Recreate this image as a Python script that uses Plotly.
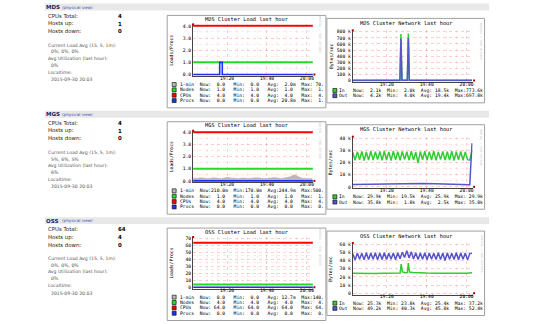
import numpy as np
import plotly.graph_objects as go

W, H = 533, 324


def X(p):
    return p / W


def Y(p):
    return 1 - p / H


# ---------------- data ----------------
clusters = ["MDS", "MGS", "OSS"]
cpus_total = ["4", "4", "64"]
hosts_up = ["1", "1", "4"]
hosts_down = ["0", "0", "0"]
load_avg_15_5_1 = ["0%, 0%, 0%", "5%, 6%, 5%", "0%, 0%, 0%"]
avg_utilization = ["0%", "6%", "0%"]
localtime = ["2015-09-30 20:03", "2015-09-30 20:03", "2015-09-30 20:03"]

# time axis: minutes after 19:00
time_range = [3, 63]
time_ticks = [20, 40, 60]
time_tick_labels = ["19:20", "19:40", "20:00"]
time_minor = [5, 10, 15, 25, 30, 35, 45, 50, 55]

load_ymax = [4, 4, 70]
load_yticks = [[0, 1, 2, 3, 4], [0, 1, 2, 3, 4], [0, 10, 20, 30, 40, 50, 60, 70]]
load_ytick_labels = [["0.0", "1.0", "2.0", "3.0", "4.0"],
                     ["0.0", "1.0", "2.0", "3.0", "4.0"],
                     ["0", "10", "20", "30", "40", "50", "60", "70"]]
net_ymax = [800, 40, 60]  # kB/s
net_yticks = [[0, 100, 200, 300, 400, 500, 600, 700, 800],
              [0, 10, 20, 30, 40],
              [0, 10, 20, 30, 40, 50, 60]]
net_ytick_labels = [["0", "100 k", "200 k", "300 k", "400 k", "500 k", "600 k", "700 k", "800 k"],
                    ["0", "10 k", "20 k", "30 k", "40 k"],
                    ["0", "10 k", "20 k", "30 k", "40 k", "50 k", "60 k"]]

const_t = [3, 63]

# MDS load
mds_min1_t = [3, 4, 5, 6, 7, 8, 63]
mds_min1 = [0.0, 0.02, 0.07, 0.04, 0.01, 0.0, 0.0]
mds_nodes = [1.0, 1.0]
mds_cpus = [4.0, 4.0]
mds_procs_t = [3, 16.3, 17.6, 63]
mds_procs = [0.0, 1.0, 0.0, 0.0]

# MGS load
mgs_min1 = [0.24, 0.22, 0.21, 0.25, 0.27, 0.23, 0.20, 0.19, 0.22, 0.26, 0.24, 0.21, 0.18, 0.20,
            0.23, 0.27, 0.29, 0.25, 0.22, 0.20, 0.17, 0.19, 0.23, 0.26, 0.24, 0.21, 0.20, 0.22,
            0.25, 0.28, 0.26, 0.23, 0.20, 0.19, 0.21, 0.24, 0.27, 0.31, 0.28, 0.24, 0.21, 0.20,
            0.23, 0.26, 0.30, 0.35, 0.46, 0.50, 0.40, 0.29, 0.24, 0.22, 0.20, 0.19, 0.20, 0.21]
mgs_nodes = [1.0, 1.0]
mgs_cpus = [4.0, 4.0]
mgs_procs = [0.0, 0.0]

# OSS load
oss_min1_t = [3, 10, 11, 12, 30, 31, 32, 63]
oss_min1 = [0.0, 0.0, 0.14, 0.0, 0.0, 0.10, 0.0, 0.0]
oss_nodes = [4.0, 4.0]
oss_cpus = [64.0, 64.0]
oss_procs = [0.0, 0.0]

# MDS network (kB/s)
mds_net_t = [3, 10, 20, 26.6, 27.1, 27.6, 30.3, 30.8, 31.3, 40, 50, 62.7]
mds_in = [2.1, 2.0, 2.2, 2.1, 765.0, 2.3, 2.2, 773.6, 2.4, 2.1, 2.0, 2.1]
mds_out = [4.1, 4.0, 4.2, 4.1, 690.0, 4.3, 4.2, 697.8, 4.4, 4.1, 4.0, 4.2]

# MGS network
mgs_in = [28.2, 21.8, 28.9, 22.3, 29.1, 21.5, 28.6, 22.0, 29.3, 21.9, 28.8, 22.4, 29.0, 21.7,
          29.2, 22.1, 28.7, 21.6, 29.4, 22.2, 28.9, 21.8, 29.1, 22.5, 28.8, 21.9, 29.3, 22.0,
          28.6, 19.5, 29.0, 22.3, 29.2, 21.8, 28.9, 22.1, 29.4, 21.7, 28.7, 22.4, 29.1, 21.9,
          28.8, 22.0, 29.3, 21.6, 28.9, 22.2, 29.0, 21.8, 28.7, 22.3, 22.0, 29.9]
mgs_out_t = [3, 8, 14, 20, 26, 32, 38, 44, 50, 56, 61.6, 62.1, 62.7]
mgs_out = [2.0, 2.1, 2.4, 2.8, 3.0, 2.9, 2.7, 2.6, 2.5, 2.0, 1.8, 18.0, 35.8]

# OSS network
oss_in_t = [3, 6, 10, 14, 18, 22, 26, 26.7, 27.2, 27.8, 29, 30.3, 30.8, 31.4, 33, 36, 40,
            44, 48, 52, 56, 58, 60, 62.7]
oss_in = [24.5, 24.3, 24.6, 24.4, 24.5, 24.6, 24.8, 25.0, 36.0, 26.5, 25.2, 25.5, 37.2, 26.0,
          25.6, 25.0, 24.8, 24.7, 24.5, 24.6, 24.2, 23.8, 24.5, 25.3]
oss_out = [48.5, 41.0, 49.6, 41.8, 49.2, 41.2, 49.8, 41.5, 49.4, 41.9, 49.7, 41.3, 49.5, 41.6,
           49.9, 41.4, 49.3, 41.8, 49.6, 41.2, 49.8, 42.5, 50.5, 44.0, 52.4, 43.5, 51.0, 42.0,
           49.7, 41.5, 49.4, 41.8, 49.9, 41.3, 49.6, 41.7, 49.2, 41.4, 49.8, 41.6, 49.5, 40.3,
           49.7, 41.8, 49.3, 41.5, 49.9, 41.2, 49.6, 41.7, 49.4, 41.3, 48.8, 49.2]

# legend statistics (Now, Min, Avg, Max)
load_series_names = ["1-min", "Nodes", "CPUs", "Procs"]
mds_load_stats = [["0.0", "0.0", "2.0m", "70.0m"], ["1.0", "1.0", "1.0", "1.0"],
                  ["4.0", "4.0", "4.0", "4.0"], ["0.0", "0.0", "20.8m", "1.0"]]
mgs_load_stats = [["210.0m", "170.0m", "244.9m", "500.0m"], ["1.0", "1.0", "1.0", "1.0"],
                  ["4.0", "4.0", "4.0", "4.0"], ["0.0", "0.0", "0.0", "0.0"]]
oss_load_stats = [["0.0", "0.0", "12.7m", "140.0m"], ["4.0", "4.0", "4.0", "4.0"],
                  ["64.0", "64.0", "64.0", "64.0"], ["0.0", "0.0", "0.0", "0.0"]]
net_series_names = ["In", "Out"]
mds_net_stats = [["2.1k", "2.0k", "18.5k", "773.6k"], ["4.2k", "4.0k", "19.4k", "697.8k"]]
mgs_net_stats = [["29.9k", "19.5k", "25.9k", "29.9k"], ["35.8k", "1.8k", "2.5k", "35.8k"]]
oss_net_stats = [["25.3k", "23.8k", "25.4k", "37.2k"], ["49.2k", "40.3k", "45.8k", "52.4k"]]

# ---------------- style ----------------
C_MIN1 = "#b8b8b8"
C_NODES = "#22dd22"
C_CPUS = "#ff0000"
C_PROCS = "#2030f4"
C_IN = "#33cc33"
C_OUT = "#5555cc"
MONO = "DejaVu Sans Mono"
SANS = "DejaVu Sans"
FS_SMALL = 4.7
FS_TITLE = 5.3
GRID_MAJOR = "rgba(255,90,90,0.30)"
GRID_MINOR = "rgba(255,130,130,0.18)"

text_off = [0, 108, 215]
graph_off = [0, 107, 214]

load_panel = dict(left=193.5, right=313.5, top=25, zero=74)
net_panel = dict(left=353.5, right=473.5, top=31, zero=80)

fig = go.Figure()
shapes = []
annotations = []


def uniform_times(n, t0=3.0, t1=62.7):
    return list(np.linspace(t0, t1, n))


def ann(x, y, text, size, color="#000", family=MONO, xanchor="left", angle=0, bold=False):
    if bold:
        text = "<b>" + text + "</b>"
    annotations.append(dict(
        x=X(x), y=Y(y), xref="paper", yref="paper", text=text.replace(" ", "\u00a0"),
        showarrow=False, xanchor=xanchor, yanchor="middle", textangle=angle,
        font=dict(family=family, size=size, color=color), borderpad=0, borderwidth=0))


def rect(x0, y0, x1, y1, fill=None, line=None, lw=1, layer="below"):
    shapes.append(dict(type="rect", xref="paper", yref="paper", x0=X(x0), x1=X(x1),
                       y0=Y(y1), y1=Y(y0), fillcolor=fill or "rgba(0,0,0,0)",
                       line=dict(color=line or "rgba(0,0,0,0)", width=lw if line else 0),
                       layer=layer))


def fmt(s):
    if s[-1].isalpha():
        return f"{s[:-1]:>5}{s[-1]}"
    return f"{s:>5} "


def axis_names(k):
    return ("x" if k == 1 else f"x{k}", "y" if k == 1 else f"y{k}")


def setup_axes(k, panel, off, ymax, tickvals, ticktext, minor_vals):
    top = panel["top"] + off
    zero = panel["zero"] + off
    vpp = ymax / (zero - top)
    pad = 1.5
    xn, yn = axis_names(k)
    xkey = "xaxis" if k == 1 else f"xaxis{k}"
    ykey = "yaxis" if k == 1 else f"yaxis{k}"
    fig.layout[xkey] = dict(
        domain=[X(panel["left"]), X(panel["right"])], anchor=yn, range=time_range,
        tickmode="array", tickvals=time_ticks, ticktext=time_tick_labels,
        showgrid=True, gridcolor=GRID_MAJOR, griddash="dot", gridwidth=1,
        minor=dict(tickmode="array", tickvals=time_minor, showgrid=True,
                   gridcolor=GRID_MINOR, griddash="dot", gridwidth=1),
        showline=True, linecolor="#444", linewidth=1, ticks="", zeroline=False,
        ticklabelstandoff=-3,
        tickfont=dict(family=MONO, size=FS_SMALL, color="#000"), fixedrange=True)
    yd = dict(
        domain=[Y(zero + pad), Y(top - pad)], anchor=xn,
        range=[-pad * vpp, ymax + pad * vpp],
        tickmode="array", tickvals=tickvals, ticktext=ticktext,
        showgrid=True, gridcolor=GRID_MAJOR, griddash="dot", gridwidth=1,
        showline=True, linecolor="#444", linewidth=1, ticks="", zeroline=False,
        tickfont=dict(family=MONO, size=FS_SMALL, color="#000"), fixedrange=True)
    if minor_vals:
        yd["minor"] = dict(tickmode="array", tickvals=minor_vals, showgrid=True,
                           gridcolor=GRID_MINOR, griddash="dot", gridwidth=1)
    fig.layout[ykey] = yd
    # rrdtool arrow marks
    rect(panel["left"] - 1, top - 2.5, panel["left"] + 1, top - 0.5, fill="#b00000", layer="above")
    rect(panel["right"] + 0.5, zero - 1, panel["right"] + 2.5, zero + 1, fill="#b00000", layer="above")


def add_line(k, t, v, color, width, fill=False, shape="linear"):
    xn, yn = axis_names(k)
    fig.add_trace(go.Scatter(
        x=t, y=v, mode="lines", xaxis=xn, yaxis=yn, hoverinfo="skip",
        line=dict(color=color, width=width, shape=shape),
        fill="tozeroy" if fill else None, fillcolor=color if fill else None))


load_data = [
    (mds_min1_t, mds_min1, mds_nodes, mds_cpus, mds_procs_t, mds_procs),
    (None, mgs_min1, mgs_nodes, mgs_cpus, const_t, mgs_procs),
    (oss_min1_t, oss_min1, oss_nodes, oss_cpus, const_t, oss_procs),
]
net_data = [
    (mds_net_t, mds_in, mds_net_t, mds_out),
    (None, mgs_in, mgs_out_t, mgs_out),
    (oss_in_t, oss_in, None, oss_out),
]
load_stats = [mds_load_stats, mgs_load_stats, oss_load_stats]
net_stats = [mds_net_stats, mgs_net_stats, oss_net_stats]

for s, name in enumerate(clusters):
    to = text_off[s]
    go_ = graph_off[s]

    # --- header band and left text ---
    rect(45, 2.5 + to, 490, 9.5 + to, fill="#e8e8e8")
    ann(46.5, 6 + to, name, 5.5, color="#1b1b6b", family=SANS, bold=True)
    ann(62, 6.2 + to, "(physical view)", 4.1, color="#3b4fb8", family=SANS)
    ann(48, 14.7 + to, "CPUs Total:", 5.4, color="#222", family=SANS)
    ann(48, 22.7 + to, "Hosts up:", 5.4, color="#222", family=SANS)
    ann(48, 30.3 + to, "Hosts down:", 5.4, color="#222", family=SANS)
    ann(118.5, 14.7 + to, cpus_total[s], 5.4, color="#000", family=SANS, bold=True)
    ann(118.5, 22.7 + to, hosts_up[s], 5.4, color="#000", family=SANS, bold=True)
    ann(118.5, 30.3 + to, hosts_down[s], 5.4, color="#000", family=SANS, bold=True)
    ann(48, 44.3 + to, "Current Load Avg (15, 5, 1m):", 4.6, color="#555", family=SANS)
    ann(51, 51.3 + to, load_avg_15_5_1[s], 4.6, color="#555", family=SANS)
    ann(48, 57.6 + to, "Avg Utilization (last hour):", 4.6, color="#555", family=SANS)
    ann(51, 64.6 + to, avg_utilization[s], 4.6, color="#555", family=SANS)
    ann(48, 71.7 + to, "Localtime:", 4.6, color="#555", family=SANS)
    ann(51, 79.0 + to, localtime[s], 4.6, color="#555", family=SANS)

    # --- load graph ---
    kL = 2 * s + 1
    rect(167.5, 14.5 + go_, 326.5, 107.5 + go_, fill="#ffffff", line="#a0a0a0")
    minor_load = [v + 0.5 for v in load_yticks[s][:-1]] if load_ymax[s] < 10 else [v + 5 for v in load_yticks[s][:-1]]
    setup_axes(kL, load_panel, go_, load_ymax[s], load_yticks[s], load_ytick_labels[s], minor_load)
    m_t, m_v, n_v, c_v, p_t, p_v = load_data[s]
    if m_t is None:
        m_t = uniform_times(len(m_v))
    add_line(kL, m_t, m_v, C_MIN1, 0.5, fill=True)
    add_line(kL, const_t, n_v, C_NODES, 2)
    add_line(kL, const_t, c_v, C_CPUS, 2)
    add_line(kL, p_t, p_v, C_PROCS, 1.6, shape="hv")
    ann(247, 18 + go_, f"{name} Cluster Load last hour", FS_TITLE, xanchor="center")
    ann(172, 49.5 + go_, "Loads/Procs", FS_SMALL, xanchor="center", angle=-90)
    ann(320.5, 34 + go_, "RRDTOOL / TOBI OETIKER", 2.8, color="#c4c4c4", xanchor="center", angle=90)
    load_cols = [C_MIN1, C_NODES, C_CPUS, C_PROCS]
    for r, rn in enumerate(load_series_names):
        yy = [84, 89.4, 94.8, 100.2][r] + go_
        a, b, c, d = load_stats[s][r]
        line = f"{rn:<7}Now:{fmt(a)}  Min:{fmt(b)}  Avg:{fmt(c)}  Max:{fmt(d)}"[:51]
        rect(172.5, yy - 2, 176.5, yy + 2, fill=load_cols[r], line="#000", lw=0.6, layer="above")
        ann(180, yy, line, FS_SMALL)

    # --- network graph ---
    kN = 2 * s + 2
    rect(327.5, 17.5 + go_, 485.5, 102.5 + go_, fill="#ffffff", line="#a0a0a0")
    minor_net = [v + 5 for v in net_yticks[s][:-1]] if net_ymax[s] == 40 else None
    setup_axes(kN, net_panel, go_, net_ymax[s], net_yticks[s], net_ytick_labels[s], minor_net)
    i_t, i_v, o_t, o_v = net_data[s]
    if i_t is None:
        i_t = uniform_times(len(i_v))
    if o_t is None:
        o_t = uniform_times(len(o_v))
    add_line(kN, i_t, i_v, C_IN, 1.5)
    add_line(kN, o_t, o_v, C_OUT, 1.5)
    ann(406.5, 22 + go_, f"{name} Cluster Network last hour", FS_TITLE, xanchor="center")
    ann(331.5, 55.5 + go_, "Bytes/sec", FS_SMALL, xanchor="center", angle=-90)
    ann(482, 40 + go_, "RRDTOOL / TOBI OETIKER", 2.8, color="#c4c4c4", xanchor="center", angle=90)
    net_cols = [C_IN, C_OUT]
    for r, rn in enumerate(net_series_names):
        yy = [90, 95.3][r] + go_
        a, b, c, d = net_stats[s][r]
        line = f"{rn:<5}Now:{fmt(a)}  Min:{fmt(b)}  Avg:{fmt(c)}  Max:{fmt(d)}"
        rect(333.5, yy - 2, 337.5, yy + 2, fill=net_cols[r], line="#000", lw=0.6, layer="above")
        ann(340, yy, line, FS_SMALL)

fig.update_layout(
    width=W, height=H, margin=dict(l=0, r=0, t=0, b=0),
    paper_bgcolor="#ffffff", plot_bgcolor="#ffffff", showlegend=False,
    shapes=shapes, annotations=annotations)

fig.write_html("out.html")
